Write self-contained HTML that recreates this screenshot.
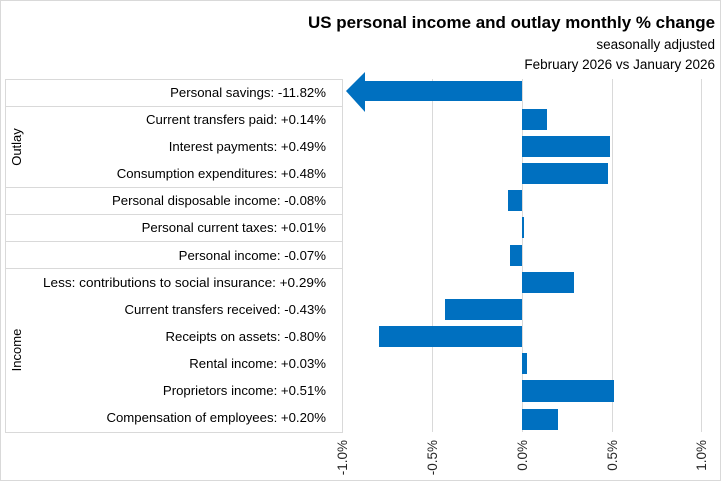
<!DOCTYPE html>
<html><head><meta charset="utf-8"><style>
body{margin:0;background:#fff}
svg{display:block;font-family:"Liberation Sans",sans-serif}
</style></head><body>
<svg width="721" height="481" viewBox="0 0 721 481">
<rect x="0.5" y="0.5" width="720" height="480" fill="#fff" stroke="#d9d9d9"/>
<text x="715" y="28" text-anchor="end" font-size="17" font-weight="bold" fill="#000" textLength="407" lengthAdjust="spacingAndGlyphs">US personal income and outlay monthly % change</text>
<text x="715" y="49" text-anchor="end" font-size="13.5" fill="#000">seasonally adjusted</text>
<text x="715" y="69" text-anchor="end" font-size="13.5" fill="#000">February 2026 vs January 2026</text>
<g stroke="#d9d9d9" stroke-width="1">
<line x1="432.5" y1="79" x2="432.5" y2="432"/>
<line x1="612.5" y1="79" x2="612.5" y2="432"/>
<line x1="701.5" y1="79" x2="701.5" y2="432"/>
<line x1="522.5" y1="79" x2="522.5" y2="432"/>
<line x1="5.5" y1="79" x2="5.5" y2="432"/>
<line x1="342.5" y1="79" x2="342.5" y2="432"/>
<line x1="5" y1="79.5" x2="343" y2="79.5"/>
<line x1="5" y1="106.5" x2="343" y2="106.5"/>
<line x1="5" y1="187.5" x2="343" y2="187.5"/>
<line x1="5" y1="214.5" x2="343" y2="214.5"/>
<line x1="5" y1="241.5" x2="343" y2="241.5"/>
<line x1="5" y1="268.5" x2="343" y2="268.5"/>
<line x1="5" y1="432.5" x2="343" y2="432.5"/>
</g>
<g font-size="13.2" fill="#000" text-anchor="end" style="white-space:pre">
<text x="326" y="97">Personal savings:  -11.82%</text>
<text x="326" y="124">Current transfers paid:  +0.14%</text>
<text x="326" y="151">Interest payments:  +0.49%</text>
<text x="326" y="178">Consumption expenditures:  +0.48%</text>
<text x="326" y="205">Personal disposable income:  -0.08%</text>
<text x="326" y="232">Personal current taxes:  +0.01%</text>
<text x="326" y="260">Personal income:  -0.07%</text>
<text x="326" y="287" textLength="283" lengthAdjust="spacingAndGlyphs">Less: contributions to social insurance:  +0.29%</text>
<text x="326" y="314">Current transfers received:  -0.43%</text>
<text x="326" y="341">Receipts on assets:  -0.80%</text>
<text x="326" y="368">Rental income:  +0.03%</text>
<text x="326" y="395">Proprietors income:  +0.51%</text>
<text x="326" y="422">Compensation of employees:  +0.20%</text>
</g>
<text transform="translate(21,147) rotate(-90)" font-size="13" text-anchor="middle">Outlay</text>
<text transform="translate(21,350) rotate(-90)" font-size="13" text-anchor="middle">Income</text>
<g fill="#0070c0">
<polygon points="522,81 365,81 365,72 346,91 365,112 365,101 522,101"/>
<rect x="522" y="109" width="25" height="21"/>
<rect x="522" y="136" width="88" height="21"/>
<rect x="522" y="163" width="86" height="21"/>
<rect x="508" y="190" width="14" height="21"/>
<rect x="522" y="217" width="2" height="21"/>
<rect x="510" y="245" width="12" height="21"/>
<rect x="522" y="272" width="52" height="21"/>
<rect x="445" y="299" width="77" height="21"/>
<rect x="379" y="326" width="143" height="21"/>
<rect x="522" y="353" width="5" height="21"/>
<rect x="522" y="380" width="92" height="22"/>
<rect x="522" y="409" width="36" height="21"/>
</g>
<g font-size="13.5" fill="#262626" text-anchor="end">
<text transform="translate(347,440) rotate(-90)">-1.0%</text>
<text transform="translate(437,440) rotate(-90)">-0.5%</text>
<text transform="translate(527,440) rotate(-90)">0.0%</text>
<text transform="translate(617,440) rotate(-90)">0.5%</text>
<text transform="translate(706,440) rotate(-90)">1.0%</text>
</g>
</svg>
</body></html>
